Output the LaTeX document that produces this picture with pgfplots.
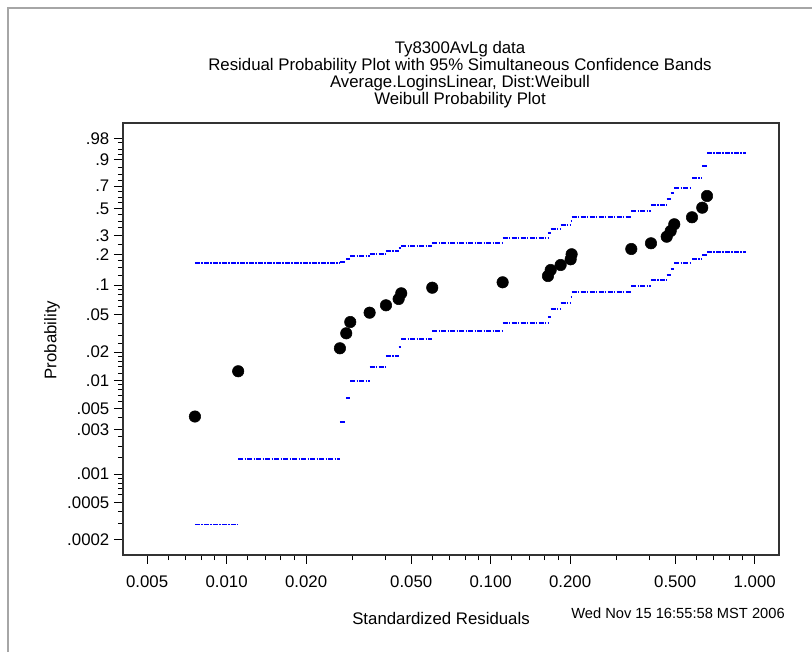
\documentclass[border=0pt]{standalone}
\usepackage{pgfplots}
\usepackage{pgfplotstable}
\pgfplotsset{compat=1.18}
\usepackage{fontspec}
\setmainfont{Liberation Sans}

% Standardized residual, probability
\pgfplotstableread{
x p
0.007585 0.00411
0.01106 0.01252
0.02686 0.02197
0.02838 0.03161
0.02939 0.04154
0.03480 0.05197
0.04013 0.06201
0.04482 0.07204
0.04585 0.08242
0.06008 0.09402
0.1110 0.10666
0.1648 0.12338
0.1688 0.14162
0.1841 0.15861
0.2009 0.18024
0.2026 0.20128
0.3409 0.22594
0.4047 0.25524
0.4642 0.29298
0.4806 0.32900
0.4959 0.37549
0.5788 0.42848
0.6329 0.50759
0.6597 0.61119
}\residdata

% upper simultaneous confidence band (step start, level)
\pgfplotstableread{
x p
0.007585 0.16480
0.02686 0.17083
0.02838 0.18145
0.02939 0.19399
0.03480 0.20262
0.04013 0.21782
0.04482 0.23085
0.04585 0.24250
0.06008 0.25845
0.1110 0.28347
0.1648 0.31417
0.1688 0.34030
0.1841 0.37031
0.2009 0.40210
0.2026 0.42848
0.3409 0.47949
0.4047 0.52808
0.4642 0.58146
0.4806 0.63570
0.4959 0.68613
0.5788 0.76795
0.6329 0.86159
0.6597 0.93569
0.9268 0.93569
}\upperband

% lower simultaneous confidence band
\pgfplotstableread{
x p
0.007585 0.000259
0.01106 0.001453
0.02686 0.003583
0.02838 0.006460
0.02939 0.009875
0.03480 0.013805
0.04013 0.018061
0.04482 0.022829
0.04585 0.027733
0.06008 0.033659
0.1110 0.040555
0.1648 0.047202
0.1688 0.056360
0.1841 0.065037
0.2009 0.074989
0.2026 0.084390
0.3409 0.098530
0.4047 0.11252
0.4642 0.12626
0.4806 0.14488
0.4959 0.16480
0.5788 0.18266
0.6329 0.19830
0.6597 0.21032
0.9268 0.21032
}\lowerband

\begin{document}
\begin{tikzpicture}
\path[use as bounding box] (0,0) rectangle (609pt,489pt);
\draw[gray!70, line width=0.9pt] (6pt,0pt) -- (6pt,483pt) -- (609pt,483pt);
\begin{axis}[
  at={(92.25pt,72.75pt)}, anchor=south west,
  scale only axis, width=492pt, height=324pt,
  xmode=log, ymode=log,
  xmin=0.00405, xmax=1.236,
  ymin=0.0001368, ymax=5.702,
  axis line style={black!80, line width=0.9pt},
  xtick pos=bottom, ytick pos=left,
  tick align=outside,
  major tick length=6.75pt, minor tick length=3.75pt,
  tick style={black, line width=0.7pt},
  xtick={0.005,0.01,0.02,0.05,0.1,0.2,0.5,1},
  xticklabels={0.005,0.010,0.020,0.050,0.100,0.200,0.500,1.000},
  minor xtick={0.006,0.007,0.008,0.009,0.012,0.014,0.016,0.018,0.03,0.04,0.06,0.07,0.08,0.09,0.12,0.14,0.16,0.18,0.3,0.4,0.6,0.7,0.8,0.9},
  ytick={0.00020002,0.00050013,0.0010005,0.0030045,0.0050125,0.01005,0.020203,0.051293,0.105361,0.223144,0.356675,0.693147,1.203973,2.302585,3.912023},
  yticklabels={.0002,.0005,.001,.003,.005,.01,.02,.05,.1,.2,.3,.5,.7,.9,.98},
  minor ytick={0.00030005,0.00040008,0.0006,0.0007,0.0008,0.0009,0.0015011,0.002002,0.0025031,0.004008,0.006018,0.0070246,0.0080322,0.0090407,0.012073,0.014099,0.016129,0.018164,0.025318,0.030459,0.040822,0.061875,0.072571,0.083382,0.094311,0.133531,0.162519,0.192372,0.287682,0.430783,0.510826,0.597837,0.798508,0.916291,1.049822,1.386294,1.609438,1.897120,2.659260,2.995732,3.506558},
  xticklabel style={yshift=-5pt},
  every tick label/.append style={font=\fontsize{12.6pt}{14pt}\selectfont},
  clip=false,
]
\addplot[blue, line width=1.45pt, dash pattern=on 3.75pt off 1pt on 1pt off 1pt, jump mark left]
  table[x=x, y expr={-ln(1-\thisrow{p})}] {\upperband};
\addplot[blue, line width=1.45pt, dash pattern=on 3.75pt off 1pt on 1pt off 1pt, jump mark left]
  table[x=x, y expr={-ln(1-\thisrow{p})}] {\lowerband};
\addplot[only marks, mark=*, mark size=4.3pt, black]
  table[x=x, y expr={-ln(1-\thisrow{p})}] {\residdata};
\end{axis}
\begin{scope}[font=\fontsize{12.6pt}{14pt}\selectfont]
\node at (345pt,452.25pt) {Ty8300AvLg data};
\node at (345pt,439.5pt) {Residual Probability Plot with 95\% Simultaneous Confidence Bands};
\node at (345pt,426.75pt) {Average.LoginsLinear, Dist:Weibull};
\node at (345pt,414pt) {Weibull Probability Plot};
\node[rotate=90] at (39pt,234pt) {Probability};
\node at (330.75pt,25pt) {Standardized Residuals};
\end{scope}
\node[font=\fontsize{11pt}{13pt}\selectfont] at (508.5pt,29.25pt) {Wed Nov 15 16:55:58 MST 2006};
\end{tikzpicture}
\end{document}
